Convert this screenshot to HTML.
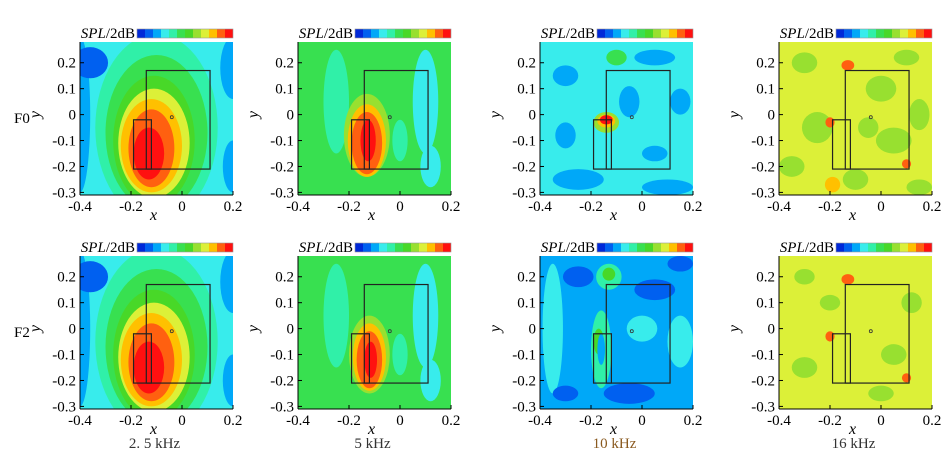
<!DOCTYPE html>
<html><head><meta charset="utf-8">
<style>
body{margin:0;background:#fff;}
svg{display:block;font-family:"Liberation Serif",serif;}
</style></head>
<body>
<svg id="fig" width="949" height="457" viewBox="0 0 949 457" xmlns="http://www.w3.org/2000/svg"></svg>
<script>
const levelColors=['#0028d8','#0060f0','#00a8f8','#38ecec','#30f0a8','#38e050','#48d828','#98e030','#dcf038','#ffc000','#ff6010','#ff1010'];
const xTicks=[-0.4,-0.2,0,0.2];
const yTicks=[0.2,0.1,0,-0.1,-0.2,-0.3];
const xTickLabels=['-0.4','-0.2','0','0.2'];
const yTickLabels=['0.2','0.1','0','-0.1','-0.2','-0.3'];
const freqLabels=['2. 5 kHz','5 kHz','10 kHz','16 kHz'];
const rowLabels=['F0','F2'];
const panelBase=[3,5,3,8,3,5,2,8];
// blobs: [x, y, rx, ry, level]
const blobs0=[[-0.4,0.0,0.04,0.3,2],[-0.36,0.2,0.07,0.06,1],[0.2,0.18,0.05,0.12,2],[0.2,-0.2,0.04,0.1,2],[-0.1,-0.05,0.24,0.36,4],[-0.1,-0.07,0.2,0.3,5],[-0.11,-0.1,0.16,0.25,6],[-0.11,-0.11,0.14,0.21,8],[-0.12,-0.12,0.12,0.18,9],[-0.12,-0.13,0.09,0.15,10],[-0.13,-0.15,0.06,0.1,11]];
const blobs1=[[0.1,0.05,0.05,0.2,3],[0.12,-0.2,0.04,0.08,3],[0.0,-0.1,0.03,0.08,4],[-0.25,0.05,0.05,0.2,4],[-0.13,-0.08,0.09,0.16,7],[-0.13,-0.1,0.075,0.14,9],[-0.13,-0.11,0.06,0.12,10],[-0.125,-0.1,0.03,0.08,11]];
const blobs2=[[-0.3,0.15,0.05,0.04,2],[0.05,0.22,0.08,0.03,2],[-0.25,-0.25,0.1,0.04,2],[0.1,-0.28,0.1,0.03,2],[-0.05,0.05,0.04,0.06,2],[0.15,0.05,0.04,0.05,2],[-0.3,-0.08,0.04,0.05,2],[0.05,-0.15,0.05,0.03,2],[-0.1,0.22,0.04,0.03,5],[-0.14,-0.03,0.05,0.04,7],[-0.14,-0.025,0.035,0.025,9],[-0.14,-0.02,0.025,0.018,11]];
const blobs3=[[-0.3,0.2,0.05,0.04,7],[0.0,0.1,0.06,0.05,7],[-0.25,-0.05,0.06,0.06,7],[0.05,-0.1,0.07,0.05,7],[-0.1,-0.25,0.05,0.04,7],[0.15,0.0,0.04,0.06,7],[-0.35,-0.2,0.05,0.04,7],[0.1,0.22,0.05,0.03,7],[-0.05,-0.05,0.04,0.04,7],[0.15,-0.28,0.05,0.03,7],[-0.13,0.19,0.025,0.02,10],[-0.2,-0.03,0.018,0.02,10],[0.1,-0.19,0.018,0.018,10],[-0.19,-0.27,0.03,0.03,9]];
const blobs4=[[-0.4,0.0,0.04,0.3,2],[-0.36,0.2,0.07,0.06,1],[0.2,0.18,0.05,0.12,2],[0.2,-0.2,0.04,0.1,2],[-0.1,-0.05,0.24,0.36,4],[-0.1,-0.07,0.2,0.3,5],[-0.11,-0.1,0.16,0.25,6],[-0.11,-0.11,0.14,0.21,8],[-0.12,-0.12,0.12,0.18,9],[-0.12,-0.13,0.09,0.15,10],[-0.13,-0.15,0.06,0.1,11]];
const blobs5=[[0.1,0.05,0.05,0.2,3],[0.12,-0.2,0.04,0.08,3],[0.0,-0.1,0.03,0.08,4],[-0.25,0.05,0.05,0.2,4],[-0.12,-0.1,0.08,0.15,7],[-0.12,-0.11,0.065,0.13,9],[-0.12,-0.12,0.05,0.11,10],[-0.115,-0.12,0.025,0.07,11]];
const blobs6=[[-0.35,0.0,0.04,0.25,3],[0.0,0.0,0.06,0.05,3],[0.15,-0.05,0.05,0.1,3],[-0.25,0.2,0.06,0.04,1],[0.05,0.15,0.08,0.04,1],[-0.05,-0.25,0.1,0.04,1],[-0.3,-0.25,0.05,0.03,1],[0.15,0.25,0.05,0.03,1],[-0.13,0.2,0.05,0.05,4],[-0.13,0.21,0.025,0.025,6],[-0.16,-0.08,0.04,0.15,4],[-0.17,-0.05,0.02,0.05,6],[-0.16,-0.08,0.015,0.06,2]];
const blobs7=[[-0.3,0.2,0.04,0.03,7],[0.05,-0.1,0.05,0.04,7],[-0.2,0.1,0.04,0.03,7],[0.12,0.1,0.04,0.04,7],[-0.3,-0.15,0.05,0.04,7],[0.0,-0.25,0.05,0.03,7],[-0.13,0.19,0.025,0.02,10],[-0.2,-0.03,0.018,0.02,10],[0.1,-0.19,0.018,0.018,10]];
const panelBlobs=[blobs0,blobs1,blobs2,blobs3,blobs4,blobs5,blobs6,blobs7];
const frameBig=[-0.14,0.11,-0.21,0.17];
const frameSmall=[-0.19,-0.12,-0.21,-0.02];
const markDot=[-0.04,-0.01];

const NS='http://www.w3.org/2000/svg';
const svg=document.getElementById('fig');
const colLeft=[80,298,540,779];
const rowTop=[42,256];
const W=153,H=153;
function mk(t,a,p){const e=document.createElementNS(NS,t);for(const k in a)e.setAttribute(k,a[k]);(p||svg).appendChild(e);return e;}
for(let r=0;r<2;r++)for(let c=0;c<4;c++){
  const idx=r*4+c,L=colLeft[c],T=rowTop[r];
  const sx=v=>L+(v+0.4)/0.6*W;
  const sy=v=>T+(0.28-v)/0.59*H;
  const g=mk('g',{});
  
  
  const cp=mk('clipPath',{id:'cp'+idx},g);
  mk('rect',{x:L,y:T,width:W,height:H},cp);
  const bg=mk('rect',{x:L,y:T,width:W,height:H,fill:levelColors[panelBase[idx]]},g);
  
  
  const bl=mk('g',{'clip-path':'url(#cp'+idx+')'},g);
  panelBlobs[idx].forEach(b=>{
    const e=mk('ellipse',{cx:sx(b[0]),cy:sy(b[1]),rx:b[2]/0.6*W,ry:b[3]/0.59*H,fill:levelColors[b[4]]},bl);
    
    
  });
  const fb=mk('rect',{x:sx(frameBig[0]),y:sy(frameBig[3]),width:sx(frameBig[1])-sx(frameBig[0]),height:sy(frameBig[2])-sy(frameBig[3]),fill:'none',stroke:'#222','stroke-width':1.2},g);
  
  
  const fs=mk('rect',{x:sx(frameSmall[0]),y:sy(frameSmall[3]),width:sx(frameSmall[1])-sx(frameSmall[0]),height:sy(frameSmall[2])-sy(frameSmall[3]),fill:'none',stroke:'#222','stroke-width':1.2},g);
  
  
  const d=mk('circle',{cx:sx(markDot[0]),cy:sy(markDot[1]),r:1.5,fill:'none',stroke:'#333','stroke-width':0.8},g);
  
  
  mk('line',{x1:L,y1:T+H,x2:L+W,y2:T+H,stroke:'#000','stroke-width':1},g);
  mk('line',{x1:L,y1:T,x2:L,y2:T+H,stroke:'#000','stroke-width':1},g);
  xTicks.forEach((v,i)=>{
    mk('line',{x1:sx(v),y1:T+H,x2:sx(v),y2:T+H-4,stroke:'#000'},g);
    const t=mk('text',{x:sx(v),y:T+H+16,'font-size':15,'text-anchor':'middle'},g);
    t.textContent=xTickLabels[i];
    
    
  });
  yTicks.forEach((v,i)=>{
    mk('line',{x1:L,y1:sy(v),x2:L+4,y2:sy(v),stroke:'#000'},g);
    const t=mk('text',{x:L-4,y:sy(v)+5,'font-size':15,'text-anchor':'end'},g);
    t.textContent=yTickLabels[i];
    
    
  });
  const xt=mk('text',{x:L+W*0.5-3,y:T+H+25,'font-size':16,'font-style':'italic','text-anchor':'middle'},g);
  xt.textContent='x';
  
  
  const yt=mk('text',{x:0,y:0,'font-size':16,'font-style':'italic','text-anchor':'middle',transform:'translate('+(L-40)+','+(sy(0))+') rotate(-90)'},g);
  yt.textContent='y';
  
  
  const cb=mk('g',{},g);
  
  
  const cbx=L+57,cbw=96/12;
  levelColors.forEach((col,i)=>{mk('rect',{x:cbx+i*cbw,y:T-13,width:cbw,height:9,fill:col},cb);});
  mk('rect',{x:cbx,y:T-13,width:96,height:9,fill:'none',stroke:'#999','stroke-width':0.6},cb);
  const ct=mk('text',{x:L+55,y:T-4,'font-size':15,'text-anchor':'end'},cb);
  ct.innerHTML='<tspan font-style="italic">SPL</tspan>/2dB';
  
  
}
rowLabels.forEach((s,r)=>{
  const t=mk('text',{x:14,y:rowTop[r]+81,'font-size':15},svg);
  t.textContent=s;
  
  
});
freqLabels.forEach((s,c)=>{
  const t=mk('text',{x:colLeft[c]+W*0.5-2,y:448,'font-size':15,'text-anchor':'middle',fill:c==2?'#8a5a20':'#333'},svg);
  t.textContent=s;
  
  
});
</script>
</body></html>
